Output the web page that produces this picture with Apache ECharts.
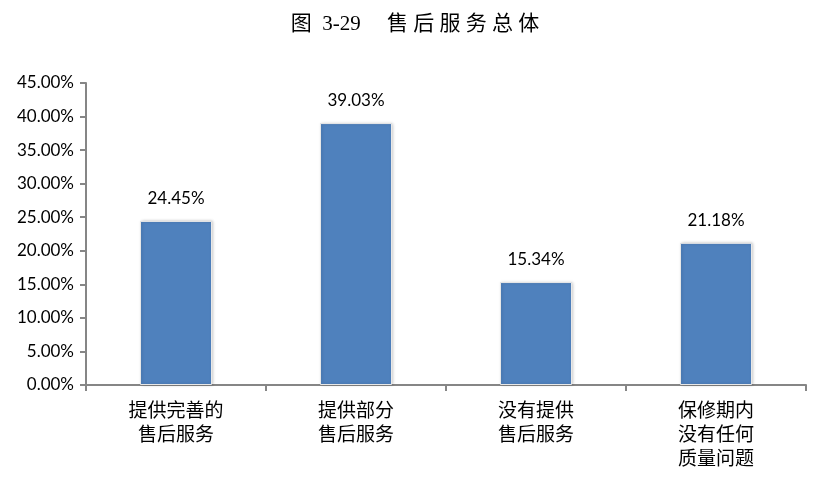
<!DOCTYPE html>
<html><head><meta charset="utf-8">
<script src="https://cdn.jsdelivr.net/npm/echarts@6/dist/echarts.min.js"></script>
<style>html,body{margin:0;padding:0;background:#fff}#c{width:830px;height:494px}</style>
</head><body><div id="c"></div>
<script>
const categories = ['提供完善的\n售后服务', '提供部分\n售后服务', '没有提供\n售后服务', '保修期内\n没有任何\n质量问题'];
const values = [24.45, 39.03, 15.34, 21.18];
const yTicks = {min: 0, max: 45, interval: 5};
const titleText = '图  3-29     售 后 服 务 总 体';

const chart = echarts.init(document.getElementById('c'));
chart.setOption({
  animation: false,
  backgroundColor: '#fff',
  title: {
    text: titleText, left: 'center', top: 9,
    textStyle: {fontFamily: 'Liberation Serif, Noto Sans CJK SC', fontSize: 21, fontWeight: 'normal', color: '#000'}
  },
  grid: {left: 86, right: 24, top: 83, bottom: 109, containLabel: false},
  xAxis: {
    type: 'category', data: categories,
    axisLine: {lineStyle: {color: '#868686', width: 2}},
    axisTick: {show: true, length: 6, lineStyle: {color: '#868686', width: 2}},
    axisLabel: {color: '#000', fontSize: 19, lineHeight: 24, margin: 13, fontFamily: 'Noto Sans CJK SC', interval: 0}
  },
  yAxis: {
    type: 'value', min: yTicks.min, max: yTicks.max, interval: yTicks.interval,
    splitLine: {show: false},
    axisLine: {show: true, lineStyle: {color: '#868686', width: 2}},
    axisTick: {show: true, length: 6, lineStyle: {color: '#868686', width: 2}},
    axisLabel: {color: '#000', fontSize: 17, margin: 12, fontFamily: 'Lato, Open Sans, sans-serif',
      formatter: v => v.toFixed(2) + '%'}
  },
  series: [{
    type: 'bar', data: values, barWidth: 72,
    itemStyle: {color: '#4F81BD', borderColor: '#e8e8e8', borderWidth: 1, shadowColor: 'rgba(0,0,0,0.18)', shadowBlur: 3, shadowOffsetX: 1, shadowOffsetY: 0},
    label: {show: true, position: 'top', distance: 14, color: '#000', fontSize: 17, fontFamily: 'Lato, Open Sans, sans-serif',
      formatter: p => p.value.toFixed(2) + '%'}
  }]
});
</script></body></html>
